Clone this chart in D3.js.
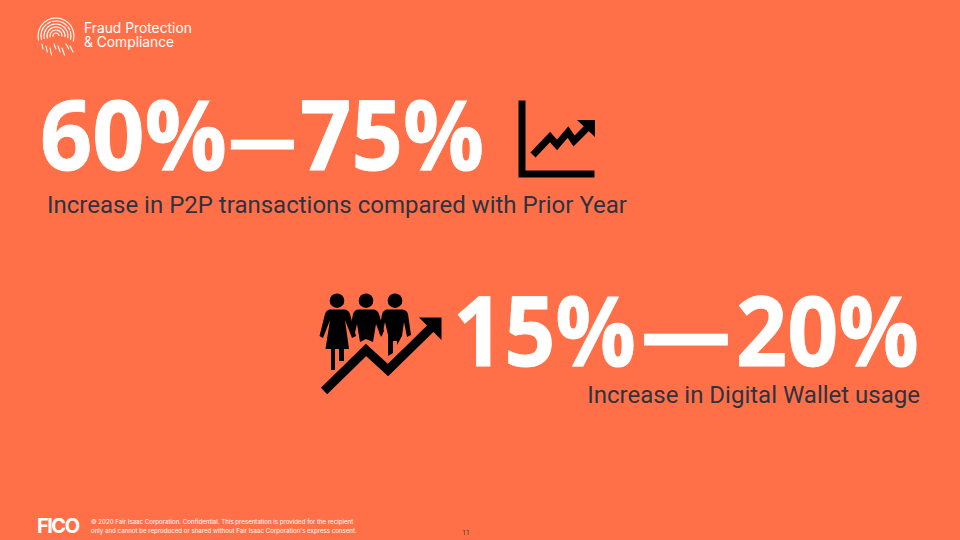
<!DOCTYPE html>
<html>
<head>
<meta charset="utf-8">
<script src="https://cdn.jsdelivr.net/npm/d3@7"></script>
<style>
  html, body { margin: 0; padding: 0; background: #ff7049; overflow: hidden; }
</style>
</head>
<body>
<script>
let width = 960;
let height = 540;

const headerLines = ["Fraud Protection", "& Compliance"];
const rangeLabels = ["60%", "75%", "15%", "20%"];
const captions = ["Increase in P2P transactions compared with Prior Year", "Increase in Digital Wallet usage"];
const legalLines = [
  "© 2020 Fair Isaac Corporation. Confidential. This presentation is provided for the recipient",
  "only and cannot be reproduced or shared without Fair Isaac Corporation's express consent."
];
const pageNumber = "11";
const brand = "FICO";

const orange = "#ff7049";
const dark = "#2b3440";

const svg = d3.select("body")
  .append("svg")
  .attr("width", width)
  .attr("height", height)
  .style("display", "block")
  .style("background-color", orange);

// header fingerprint, dashed rings around the centre of the print
const print = svg.append("g")
  .attr("transform", "translate(56,36)")
  .attr("fill", "none")
  .attr("stroke", "white")
  .attr("stroke-width", 1.1)
  .attr("stroke-linecap", "round");

[3, 6, 9, 12, 15, 18].forEach((r, i) => {
  const arc = d3.arc()
    .innerRadius(r)
    .outerRadius(r)
    .startAngle(-Math.PI * 0.58)
    .endAngle(Math.PI * (0.5 + i * 0.02));
  print.append("path")
    .attr("d", arc())
    .attr("stroke-dasharray", i % 2 ? "10 2 4 2" : "16 2 3 2");
});
[-14, -10, -6, -2, 2, 6, 10, 14].forEach((x, i) => {
  print.append("line")
    .attr("x1", x)
    .attr("x2", x + 1 + i * 0.3)
    .attr("y1", 8 + (i % 3) * 2)
    .attr("y2", 13 + (i % 3) * 3);
});

svg.selectAll(".header")
  .data(headerLines)
  .enter()
  .append("text")
  .attr("class", "header")
  .attr("x", 84)
  .attr("y", (d, i) => 33 + i * 14)
  .attr("font-family", "Inter, Roboto, sans-serif")
  .attr("font-size", 13.8)
  .attr("fill", "white")
  .text(d => d);

// big numbers, squeezed since the original face is narrower than Open Sans
const bigText = (label, x, y, w, weight) => {
  svg.append("text")
    .attr("x", x)
    .attr("y", y)
    .attr("textLength", w)
    .attr("lengthAdjust", "spacingAndGlyphs")
    .attr("font-family", "'Open Sans', sans-serif")
    .attr("font-size", 96)
    .attr("font-weight", weight)
    .attr("fill", "white")
    .attr("stroke", "white")
    .attr("stroke-width", 0.8)
    .text(label);
};
bigText(rangeLabels[0], 40, 170, 187, 700);
bigText("—", 228.5, 170, 68, 600);
bigText(rangeLabels[1], 300, 170, 184, 700);
bigText(rangeLabels[2], 453, 366, 183, 700);
bigText("—", 641, 366, 90, 700);
bigText(rangeLabels[3], 736, 366, 183, 700);

// captions
svg.append("text")
  .attr("x", 47)
  .attr("y", 213)
  .attr("font-family", "Roboto, sans-serif")
  .attr("font-size", 24)
  .attr("fill", dark)
  .text(captions[0]);

svg.append("text")
  .attr("x", 920)
  .attr("y", 403)
  .attr("text-anchor", "end")
  .attr("font-family", "Roboto, sans-serif")
  .attr("font-size", 24)
  .attr("fill", dark)
  .text(captions[1]);

// line chart icon
svg.append("path")
  .attr("d", "M518.5 100.5H525.5V170.5H594.5V177.5H518.5Z")
  .attr("fill", "black");
svg.append("path")
  .attr("d", "M533 155L550 137L557 145L568 132L574 141L588 127")
  .attr("fill", "none")
  .attr("stroke", "black")
  .attr("stroke-width", 7);
svg.append("path")
  .attr("d", "M577 120H595V137Z")
  .attr("fill", "black");

// people and arrow icon
const people = svg.append("g").attr("fill", "black");
[337, 366, 395].forEach(cx => {
  people.append("circle").attr("cx", cx).attr("cy", 300.7).attr("r", 7.3);
});
people.append("path")
  .attr("d", "M330 309.5H344C347 309.5 349 311 350 314L356 336L352 338L345 320L349 349H344V361H339V349H335V370H331V349H325.5L330 320L323 338L319.5 336L325 314C326 311 328 309.5 330 309.5Z");
people.append("path")
  .attr("d", "M358 309.5H373C376 309.5 378 311 379 314L384 331L381 337L376 324L373 342L366 339L360 342L357 324L354 337L350 331L353 314C354 311 356 309.5 358 309.5Z");
people.append("path")
  .attr("d", "M387 309.5H402C405 309.5 407 311 408 314L411 335L407 337L404 322L402 336L397 345V341H393V353L388 356V335L385 322L382 336L379 333L382 314C383 311 385 309.5 387 309.5Z");
svg.append("path")
  .attr("d", "M324 391L366 350L388 370L432 327")
  .attr("fill", "none")
  .attr("stroke", orange)
  .attr("stroke-width", 13);
svg.append("path")
  .attr("d", "M324 391L366 350L388 370L432 327")
  .attr("fill", "none")
  .attr("stroke", "black")
  .attr("stroke-width", 9);
svg.append("path")
  .attr("d", "M419 317.5H441.5V340Z")
  .attr("fill", "black");

// footer
svg.append("text")
  .attr("x", 37)
  .attr("y", 533)
  .attr("font-family", "Inter, Roboto, sans-serif")
  .attr("font-size", 20)
  .attr("font-weight", 700)
  .attr("letter-spacing", -1.5)
  .attr("fill", "white")
  .text(brand);

svg.selectAll(".legal")
  .data(legalLines)
  .enter()
  .append("text")
  .attr("class", "legal")
  .attr("x", 91)
  .attr("y", (d, i) => 524 + i * 8.5)
  .attr("font-family", "Inter, Roboto, sans-serif")
  .attr("font-size", 6.15)
  .attr("fill", "white")
  .text(d => d);

svg.append("text")
  .attr("x", 466)
  .attr("y", 535)
  .attr("text-anchor", "middle")
  .attr("font-family", "Roboto, sans-serif")
  .attr("font-size", 6.5)
  .attr("fill", dark)
  .text(pageNumber);
</script>
</body>
</html>
